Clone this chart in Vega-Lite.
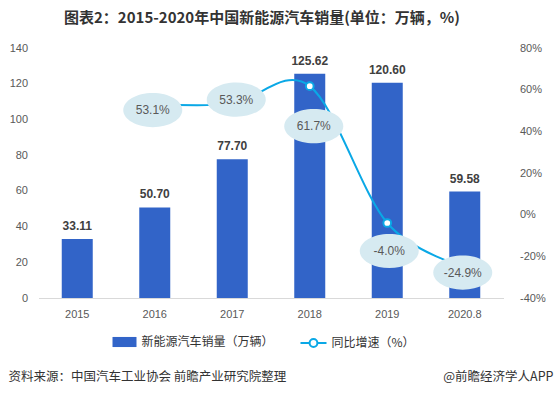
{
"$schema":"https://vega.github.io/schema/vega-lite/v6.json",
"width":465,"height":250,
"autosize":{"type":"none"},
"padding":{"left":38.5,"top":48,"right":52.5,"bottom":98},
"background":"#ffffff",
"title":{"text":"图表2：2015-2020年中国新能源汽车销量(单位：万辆，%)","font":"Noto Sans CJK SC","fontSize":15,"fontWeight":"bold","color":"#333333","anchor":"middle","offset":16,"dx":-9},
"config":{"view":{"stroke":null},
  "locale":{"number":{"decimal":".","thousands":",","grouping":[3],"currency":["",""],"minus":"-"}},
  "axis":{"grid":false,"ticks":false,"labelFont":"Liberation Sans","labelFontSize":11,"labelColor":"#595959"}},
"data":{"values":[
 {"year":"2015","sales":33.11,"growth":null},
 {"year":"2016","sales":50.70,"growth":0.531},
 {"year":"2017","sales":77.70,"growth":0.533},
 {"year":"2018","sales":125.62,"growth":0.617},
 {"year":"2019","sales":120.60,"growth":-0.040},
 {"year":"2020.8","sales":59.58,"growth":-0.249}
]},
"encoding":{"x":{"field":"year","type":"ordinal","sort":null,"scale":{"paddingInner":0.6,"paddingOuter":0.3},
  "axis":{"labelAngle":0,"domainColor":"#d9d9d9","labelPadding":10,
   "title":"资料来源：中国汽车工业协会 前瞻产业研究院整理","titleFont":"Noto Sans CJK SC","titleFontSize":12.5,"titleFontWeight":"normal","titleColor":"#333333","titleAnchor":"start","titleAlign":"left","titleBaseline":"middle","titleX":-30.5,"titleY":78}}},
"layer":[
 {"encoding":{"y":{"field":"sales","type":"quantitative","scale":{"domain":[0,140]},
   "axis":{"orient":"left","values":[0,20,40,60,80,100,120,140],"domain":false,"labelPadding":11,"title":null}}},
  "layer":[
   {"mark":{"type":"bar"},
    "encoding":{"color":{"datum":"新能源汽车销量（万辆）","type":"nominal","scale":{"range":["#3264c8"]},
      "legend":{"orient":"none","legendX":73,"legendY":281,"title":null,"symbolType":"M-1,-0.42H1V0.42H-1Z","symbolSize":576,"labelFont":"Noto Sans CJK SC","labelFontSize":12,"labelColor":"#333333","labelOffset":4}}}},
   {"mark":{"type":"text","dy":-13,"baseline":"middle","font":"Liberation Sans","fontSize":12,"fontWeight":"bold","color":"#404040"},
    "encoding":{"text":{"field":"sales","type":"quantitative","format":".2f"}}}
  ]},
 {"transform":[{"filter":"isValid(datum.growth)"}],
  "encoding":{"y":{"field":"growth","type":"quantitative","scale":{"domain":[-0.4,0.8]},
   "axis":{"orient":"right","values":[-0.4,-0.2,0,0.2,0.4,0.6,0.8],"format":".0%","domain":false,"labelPadding":16,
    "title":"@前瞻经济学人APP","titleAngle":0,"titleX":49.5,"titleY":328,"titleAlign":"right","titleBaseline":"middle","titleFont":"Noto Sans CJK SC","titleFontSize":12.5,"titleFontWeight":"normal","titleColor":"#333333"}}},
  "layer":[
   {"mark":{"type":"line","interpolate":"cardinal","strokeWidth":2},
    "encoding":{"stroke":{"datum":"同比增速（%）","type":"nominal","scale":{"range":["#0aa8e6"]},
      "legend":{"orient":"none","legendX":261,"legendY":281,"title":null,"symbolType":"M-1,0H-0.3M0.3,0H1M-0.3,0A0.3,0.3 0 1,1 0.3,0A0.3,0.3 0 1,1 -0.3,0","symbolSize":676,"symbolStrokeWidth":2,"symbolFillColor":"#ffffff","labelFont":"Noto Sans CJK SC","labelFontSize":12,"labelColor":"#333333","labelOffset":4}}}},
   {"mark":{"type":"point","shape":"circle","filled":true,"fill":"#ffffff","stroke":"#0aa8e6","strokeWidth":2,"size":60,"opacity":1}},
   {"transform":[{"filter":"datum.year=='2016' || datum.year=='2020.8'"}],
    "layer":[
     {"mark":{"type":"point","shape":"M-1,0A1,0.58 0 1,0 1,0A1,0.58 0 1,0 -1,0Z","size":3481,"filled":true,"fill":"#d6eaf1","opacity":1,"strokeWidth":0,"xOffset":-2,"yOffset":6}},
     {"mark":{"type":"text","font":"Liberation Sans","fontSize":12,"color":"#595959","baseline":"middle","xOffset":-2,"yOffset":6},"encoding":{"text":{"field":"growth","type":"quantitative","format":".1%"}}}
    ]},
   {"transform":[{"filter":"datum.year=='2017'"}],
    "layer":[
     {"mark":{"type":"point","shape":"M-1,0A1,0.58 0 1,0 1,0A1,0.58 0 1,0 -1,0Z","size":3481,"filled":true,"fill":"#d6eaf1","opacity":1,"strokeWidth":0,"xOffset":4,"yOffset":-4}},
     {"mark":{"type":"text","font":"Liberation Sans","fontSize":12,"color":"#595959","baseline":"middle","xOffset":4,"yOffset":-4},"encoding":{"text":{"field":"growth","type":"quantitative","format":".1%"}}}
    ]},
   {"transform":[{"filter":"datum.year=='2018'"}],
    "layer":[
     {"mark":{"type":"point","shape":"M-1,0A1,0.58 0 1,0 1,0A1,0.58 0 1,0 -1,0Z","size":3481,"filled":true,"fill":"#d6eaf1","opacity":1,"strokeWidth":0,"xOffset":4,"yOffset":40}},
     {"mark":{"type":"text","font":"Liberation Sans","fontSize":12,"color":"#595959","baseline":"middle","xOffset":4,"yOffset":40},"encoding":{"text":{"field":"growth","type":"quantitative","format":".1%"}}}
    ]},
   {"transform":[{"filter":"datum.year=='2019'"}],
    "layer":[
     {"mark":{"type":"point","shape":"M-1,0A1,0.58 0 1,0 1,0A1,0.58 0 1,0 -1,0Z","size":3481,"filled":true,"fill":"#d6eaf1","opacity":1,"strokeWidth":0,"xOffset":2,"yOffset":28}},
     {"mark":{"type":"text","font":"Liberation Sans","fontSize":12,"color":"#595959","baseline":"middle","xOffset":2,"yOffset":28},"encoding":{"text":{"field":"growth","type":"quantitative","format":".1%"}}}
    ]}
  ]}
],
"resolve":{"scale":{"y":"independent"}}
}
